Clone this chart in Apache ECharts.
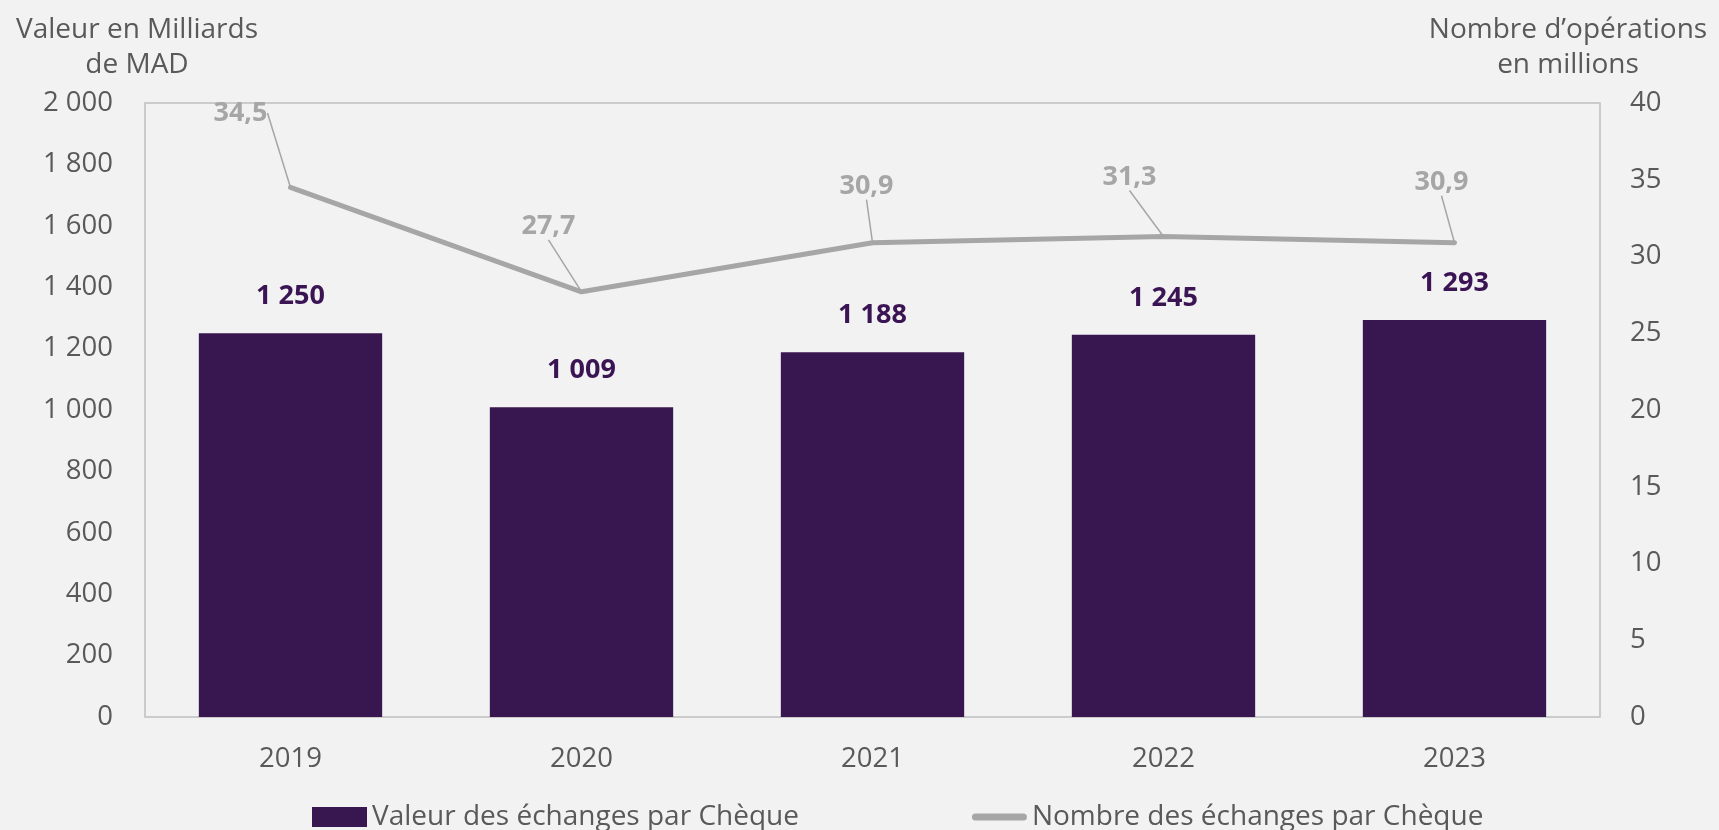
<!DOCTYPE html>
<html>
<head>
<meta charset="utf-8">
<script src="https://cdn.jsdelivr.net/npm/echarts@6/dist/echarts.min.js"></script>
<style>
    html, body { margin: 0; padding: 0; background: #f2f2f2; }
    #main { width: 1719px; height: 830px; }
</style>
</head>
<body>
<div id="main"></div>
<script>
// data
var years = ['2019', '2020', '2021', '2022', '2023'];
var valeurCheque = [1250, 1009, 1188, 1245, 1293];      // milliards de MAD
var nombreCheque = [34.5, 27.7, 30.9, 31.3, 30.9];      // millions d'opérations

// where the grey labels sit relative to their point (leader lines)
var lineLabelShift = [[-50, -60], [-33, -51], [-6, -42], [-34, -45], [-13, -46]];

var FONT = '"Open Sans", sans-serif';
var GREY_TXT = '#595959';

function spaced(v) {
    // 1250 -> "1 250"
    return String(v).replace(/\B(?=(\d{3})+(?!\d))/g, ' ');
}

var chart = echarts.init(document.getElementById('main'));

var option = {
    backgroundColor: '#f2f2f2',
    textStyle: { fontFamily: FONT },
    animation: false,

    grid: {
        left: 145,
        right: 119,
        top: 103,
        bottom: 113,
        containLabel: false,
        outerBoundsMode: 'none',
        show: true,
        borderColor: '#bfbfbf',
        borderWidth: 1.5,
        backgroundColor: 'transparent'
    },

    legend: {
        left: 307,
        top: 798,
        itemGap: 173,
        itemWidth: 55,
        itemHeight: 20,
        textStyle: { color: GREY_TXT, fontSize: 28, fontFamily: FONT },
        data: [
            { name: 'Valeur des échanges par Chèque', icon: 'rect' },
            {
                name: 'Nombre des échanges par Chèque',
                icon: 'path://M4,0 L58,0 A4,4 0 0 1 58,8 L4,8 A4,4 0 0 1 4,0 Z'
            }
        ]
    },

    xAxis: {
        type: 'category',
        data: years,
        axisLine: { show: false },
        axisTick: { show: false },
        axisLabel: { color: GREY_TXT, fontSize: 27.5, margin: 28 }
    },

    yAxis: [
        {
            type: 'value',
            min: 0,
            max: 2000,
            interval: 200,
            name: 'Valeur en Milliards\nde MAD',
            nameLocation: 'end',
            nameGap: 20,
            nameTextStyle: {
                color: GREY_TXT, fontSize: 28, lineHeight: 35,
                align: 'center', padding: [0, 16, 0, 0]
            },
            splitLine: { show: false },
            axisLine: { show: false },
            axisLabel: {
                color: GREY_TXT, fontSize: 27.5, margin: 32,
                formatter: function (v) { return spaced(v); }
            }
        },
        {
            type: 'value',
            min: 0,
            max: 40,
            interval: 5,
            name: 'Nombre d\u2019opérations\nen millions',
            nameLocation: 'end',
            nameGap: 20,
            nameTextStyle: {
                color: GREY_TXT, fontSize: 28, lineHeight: 35,
                align: 'center', padding: [0, 64, 0, 0]
            },
            splitLine: { show: false },
            axisLine: { show: false },
            axisLabel: { color: GREY_TXT, fontSize: 27.5, margin: 30 }
        }
    ],

    series: [
        {
            name: 'Valeur des échanges par Chèque',
            type: 'bar',
            barWidth: '63%',
            data: valeurCheque,
            itemStyle: { color: '#38164f' },
            label: {
                show: true,
                position: 'top',
                distance: 23,
                color: '#3b1454',
                fontSize: 27,
                fontWeight: 'bold',
                formatter: function (p) { return spaced(p.value); }
            }
        },
        {
            name: 'Nombre des échanges par Chèque',
            type: 'line',
            yAxisIndex: 1,
            data: nombreCheque,
            symbol: 'circle',
            symbolSize: 2,
            itemStyle: { color: '#a6a6a6' },
            lineStyle: { color: '#a6a6a6', width: 5, cap: 'round' },
            label: {
                show: true,
                position: 'top',
                distance: 0,
                color: '#a6a6a6',
                fontSize: 27,
                fontWeight: 'bold',
                formatter: function (p) { return p.value.toFixed(1).replace('.', ','); }
            },
            labelLine: {
                show: true,
                lineStyle: { color: '#a6a6a6', width: 1.5 }
            },
            labelLayout: function (params) {
                var s = lineLabelShift[params.dataIndex];
                return { dx: s[0], dy: s[1] };
            }
        }
    ]
};

chart.setOption(option);
</script>
</body>
</html>
